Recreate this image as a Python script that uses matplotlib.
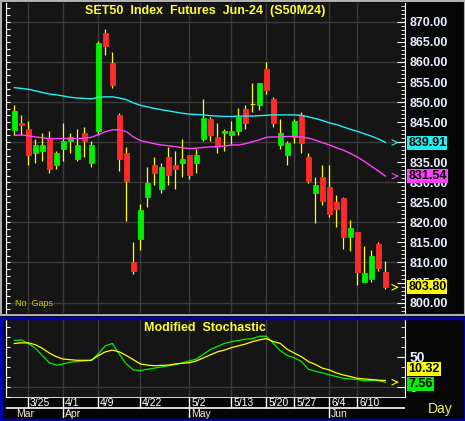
import matplotlib
matplotlib.use("Agg")
import numpy as np
import matplotlib.pyplot as plt
from matplotlib.ticker import MultipleLocator, FuncFormatter
from matplotlib.patches import Rectangle
import matplotlib.transforms as mtransforms

plt.rcParams['font.family'] = ['Liberation Sans', 'DejaVu Sans']

# daily candles, 21 Mar .. 14 Jun 2024 (trading days)
opens = [843.0, 844.7, 843.2, 837.4, 837.9, 840.7, 834.4, 838.4, 840.2, 835.9, 842.2, 834.9, 842.9,
         867.2, 859.7, 846.7, 837.2, 810.2, 815.9, 826.4, 834.2, 828.4, 836.2, 834.2, 834.7, 836.9,
         834.7, 840.9, 845.7, 841.2, 842.4, 841.7, 842.9, 848.2, 849.4, 849.2, 858.2, 850.7, 839.4, 836.9,
         841.4, 846.7, 836.2, 827.4, 831.2, 828.7, 825.2, 826.2, 816.4, 817.7, 805.2, 805.9, 814.7, 807.7]
closes = [847.7, 844.2, 836.7, 839.2, 839.2, 833.2, 837.4, 840.4, 841.2, 839.2, 840.2, 839.4, 864.7,
          863.9, 854.2, 835.7, 830.2, 807.9, 823.2, 829.7, 832.4, 833.7, 831.9, 833.2, 835.7, 831.9,
          836.9, 845.9, 841.9, 838.9, 842.9, 842.7, 846.2, 844.9, 849.4, 854.7, 852.9, 844.7, 842.2, 839.9,
          845.4, 839.7, 830.2, 829.4, 825.4, 822.2, 823.4, 816.4, 818.7, 807.7, 807.4, 811.7, 808.7, 803.8]
highs = [849.2, 846.7, 845.2, 840.9, 842.4, 842.7, 837.7, 844.7, 842.2, 843.2, 843.9, 840.4, 865.2,
         868.2, 862.4, 847.2, 838.9, 815.2, 824.7, 833.9, 836.4, 834.9, 838.7, 837.7, 840.7, 836.9,
         838.2, 850.7, 846.2, 844.7, 843.2, 845.4, 848.4, 849.2, 854.7, 854.7, 859.9, 851.2, 845.7, 840.4,
         845.7, 847.4, 837.2, 831.4, 834.2, 834.2, 826.7, 826.4, 820.7, 817.7, 814.2, 813.2, 815.2, 810.4]
lows = [841.7, 841.7, 834.4, 834.9, 835.4, 832.2, 833.4, 835.2, 837.4, 835.2, 836.4, 833.9, 841.9,
        861.7, 853.4, 832.7, 820.4, 807.2, 813.2, 823.9, 829.4, 827.4, 829.4, 828.4, 831.4, 830.7,
        832.4, 840.2, 840.2, 837.2, 837.9, 839.2, 841.9, 843.2, 847.4, 847.9, 851.9, 843.7, 838.2, 834.2,
        839.9, 837.2, 829.9, 819.9, 824.4, 821.4, 818.9, 813.4, 812.9, 804.4, 805.2, 805.2, 807.9, 803.4]

ma_long = [853.6, 853.4, 853.2, 852.8, 852.4, 852.0, 851.8, 851.5, 851.2, 851.0, 850.9, 850.8, 851.2,
           851.3, 851.3, 851.0, 850.6, 849.8, 849.2, 848.8, 848.4, 848.1, 847.8, 847.5, 847.2, 847.0,
           846.9, 846.8, 846.6, 846.5, 846.4, 846.4, 846.5, 846.5, 846.5, 846.6, 846.7, 846.8, 846.8, 846.8,
           846.8, 846.7, 846.3, 845.9, 845.4, 844.8, 844.4, 843.8, 843.2, 842.7, 842.1, 841.5, 840.8, 839.91]
ma_short = [841.7, 841.8, 841.6, 841.3, 841.1, 840.9, 840.9, 840.9, 840.9, 840.9, 841.0, 841.2, 841.9,
            842.6, 843.1, 843.1, 842.6, 841.3, 840.4, 840.0, 839.6, 839.3, 839.1, 838.9, 838.6, 838.4,
            838.5, 838.7, 838.8, 838.9, 839.0, 839.3, 839.3, 839.6, 840.1, 840.6, 841.2, 841.3, 841.3, 841.4,
            841.4, 841.3, 841.0, 840.5, 839.9, 839.3, 838.6, 838.0, 837.2, 836.3, 835.2, 834.0, 832.8, 831.54]

stoch_k = [77, 78, 72, 64, 52, 40, 36, 38, 41, 42, 43, 44, 55, 68, 72, 54, 38, 28, 27, 29, 31, 33, 35,
           37, 40, 43, 46, 54, 62, 67, 72, 75, 77, 79, 80, 84, 84, 72, 60, 52, 48, 42, 29, 26, 23, 20,
           17, 14, 13, 12, 10, 11, 10, 7.56]
stoch_d = [72, 73, 73, 70, 64, 56, 50, 46, 45, 44, 44, 44, 52, 58, 61, 58, 52, 45, 38, 36, 35, 35.5, 36,
           38, 39, 40, 43, 48, 53, 58, 61, 65, 68, 71, 75, 78, 80, 75, 72, 62, 56, 50, 42, 37, 31, 28,
           23, 19.5, 17, 14, 13, 12, 11, 10.32]

date_idx = [2, 7, 12, 18, 25, 31, 36, 40, 45, 49]
date_lbl = ['3/25', '4/1', '4/9', '4/22', '5/2', '5/13', '5/20', '5/27', '6/4', '6/10']
month_idx = [0, 7, 25, 45]
month_lbl = ['Mar', 'Apr', 'May', 'Jun']

W, H = 465, 421
BG = '#151515'
GRID = '#3a3a3a'
AXC = '#e8eeff'

fig = plt.figure(figsize=(W / 100, H / 100), dpi=100, facecolor='#050505')

def box(l, t, r, b):
    return [l / W, 1 - b / H, (r - l) / W, (b - t) / H]

x = np.arange(len(opens))
xlim = (-1.26, 55.8)

# ---- price panel
ax = fig.add_axes(box(5.5, 3, 405, 313))
ax.set_facecolor(BG)
ax.set_xlim(*xlim)
ax.set_ylim(797.4, 874.7)
for v in date_idx:
    ax.axvline(v, color=GRID, lw=1, zorder=0)
for lvl in np.arange(800, 871, 10):
    ax.axhline(lvl, color=GRID, lw=1, zorder=0)

o = np.array(opens); c = np.array(closes)
cols = np.where(c > o, '#00f000', np.where(c < o, '#ff2a2a', '#ffff00'))
ax.vlines(x, lows, highs, color='#ffff00', lw=0.9, zorder=2)
ax.bar(x, c - o, bottom=o, width=0.7, color=cols, edgecolor=cols, lw=0.6, zorder=3)
ax.plot(x, ma_long, color='#20f0f0', lw=1, zorder=4)
ax.plot(x, ma_short, color='#ff40ff', lw=1, zorder=4)

ax.set_xticks([])
ax.yaxis.tick_right()
ax.yaxis.set_major_locator(MultipleLocator(5))
ax.yaxis.set_minor_locator(MultipleLocator(1))
ax.yaxis.set_major_formatter(FuncFormatter(lambda v, p: f'{v:.2f}'))
ax.tick_params(axis='y', which='major', direction='in', length=6, color='white',
               labelcolor=AXC, labelsize=9, pad=3)
ax.tick_params(axis='y', which='minor', direction='in', length=3, color='white')
for lab in ax.get_yticklabels():
    lab.set_fontweight('bold')
for s in ['top', 'bottom']:
    ax.spines[s].set_visible(False)
ax.spines['right'].set_color('white')
ax.spines['left'].set_color('white')
sec = ax.secondary_yaxis('left')
sec.yaxis.set_major_locator(MultipleLocator(5 / 3))
sec.tick_params(direction='in', length=3, color='white', labelleft=False)
sec.spines['left'].set_color('white')

ax.text(0.5, 0.973, 'SET50  Index  Futures  Jun-24  (S50M24)', transform=ax.transAxes,
        ha='center', va='center', color='#ffff30', fontsize=9, fontweight='bold')
ax.text(0.025, 0.015, 'No  Gaps', transform=ax.transAxes, ha='left', va='bottom',
        color='#c8c800', fontsize=6.5)

tr = mtransforms.blended_transform_factory(ax.transAxes, ax.transData)
for val, col in [(ma_long[-1], '#20f0f0'), (ma_short[-1], '#ff40ff'), (closes[-1], '#ffff00')]:
    ax.annotate('', xy=(55.3, val), xytext=(54.3, val),
                arrowprops=dict(arrowstyle='->', color=col, lw=0.8), annotation_clip=False)
    ax.text(1.008, val, f'{val:.2f}', transform=tr, ha='left', va='center', color='black',
            fontsize=9, fontweight='bold', clip_on=False, zorder=10,
            bbox=dict(boxstyle='square,pad=0.08', fc=col, ec='none'))

# ---- stochastic panel
ax2 = fig.add_axes(box(5.5, 320, 405, 397))
ax2.set_facecolor(BG)
ax2.set_xlim(*xlim)
ax2.set_ylim(-17, 111)
for v in date_idx:
    ax2.axvline(v, color=GRID, lw=1, zorder=0)
ax2.axhline(0, color=GRID, lw=1, zorder=0)
ax2.plot(x, stoch_k, color='#00f000', lw=0.9)
ax2.plot(x, stoch_d, color='#ffff00', lw=0.9)
ax2.set_xticks([])
ax2.yaxis.tick_right()
ax2.set_yticks([0, 50])
ax2.yaxis.set_minor_locator(MultipleLocator(50 / 3))
ax2.tick_params(axis='y', which='major', direction='in', length=6, color='white',
                labelcolor=AXC, labelsize=10, pad=3)
ax2.tick_params(axis='y', which='minor', direction='in', length=3, color='white')
for lab in ax2.get_yticklabels():
    lab.set_fontweight('bold')
for s in ['top', 'bottom']:
    ax2.spines[s].set_visible(False)
ax2.spines['right'].set_color('white')
ax2.spines['left'].set_color('white')
sec2 = ax2.secondary_yaxis('left')
sec2.yaxis.set_major_locator(MultipleLocator(50 / 3))
sec2.tick_params(direction='in', length=3, color='white', labelleft=False)
sec2.spines['left'].set_color('white')
ax2.text(0.5, 0.9, 'Modified  Stochastic', transform=ax2.transAxes, ha='center', va='center',
         color='#ffff30', fontsize=9, fontweight='bold')

tr2 = mtransforms.blended_transform_factory(ax2.transAxes, ax2.transData)
ax2.annotate('', xy=(55.3, stoch_k[-1]), xytext=(54.3, stoch_k[-1]),
             arrowprops=dict(arrowstyle='->', color='#ffff00', lw=0.8), annotation_clip=False)
for val, col, dy in [(stoch_d[-1], '#ffff00', 8), (stoch_k[-1], '#00f000', -1)]:
    ax2.annotate(f'{val:.2f}', xy=(1.008, val), xycoords=tr2, xytext=(0, dy),
                 textcoords='offset points', ha='left', va='center', color='black',
                 fontsize=9, fontweight='bold', annotation_clip=False, zorder=10,
                 bbox=dict(boxstyle='square,pad=0.08', fc=col, ec='none'))

# ---- date strip
ax3 = fig.add_axes(box(5.5, 397, 405, 418))
ax3.set_facecolor('#050505')
ax3.set_xlim(*xlim)
ax3.set_ylim(0, 2)
ax3.axis('off')
ax3.axhline(2, color='white', lw=1.2)
ax3.axhline(1, color='white', lw=1.2)
ax3.vlines(date_idx, 1, 2, color='white', lw=1)
ax3.vlines(month_idx[1:], 0, 1, color='white', lw=1)
for v, t in zip(date_idx, date_lbl):
    ax3.text(v + 0.25, 1.45, t, ha='left', va='center', color='white', fontsize=7.5)
for v, t in zip(month_idx, month_lbl):
    ax3.text(v + 0.25, 0.35, t, ha='left', va='center', color='#ffe8d0', fontsize=7.5)

fig.text(440 / W, 1 - 409 / H, 'Day', ha='center', va='center', color='#f0f060', fontsize=10)

# frames
fig.add_artist(Rectangle((0.5 / W, 1 - 315 / H), 464 / W, 314 / H, transform=fig.transFigure,
                         fill=False, ec='#b0b0b0', lw=1.5))
fig.add_artist(Rectangle((0.5 / W, 1 / H), 464 / W, 102 / H, transform=fig.transFigure,
                         fill=False, ec='#0000b0', lw=2.5))

fig.savefig('out.png', dpi=100, facecolor=fig.get_facecolor())
